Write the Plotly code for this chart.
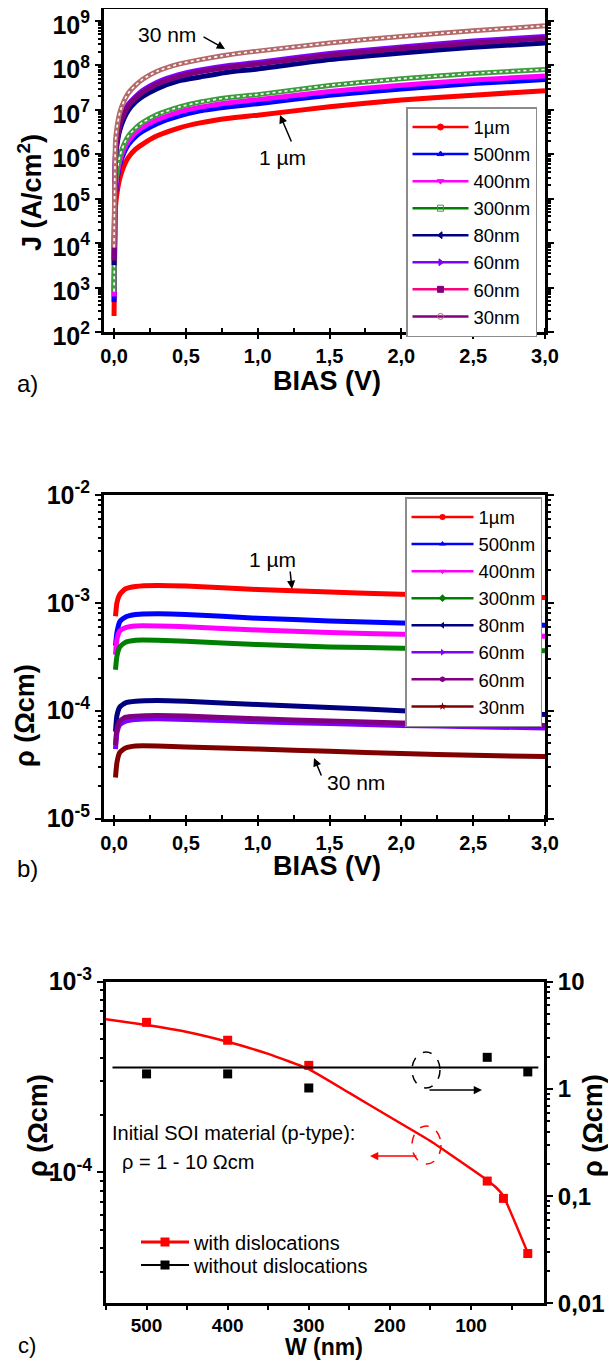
import plotly.graph_objects as go

# ---------------- Panel a : J versus BIAS ----------------
bias_a = [0.0, 0.01, 0.02, 0.04, 0.07, 0.1, 0.15, 0.2, 0.3, 0.45, 0.6, 0.8, 1.0, 1.5, 2.0, 2.5, 3.0]
j_1um   = [2.3e2, 6.6e4, 1.3e5, 2.9e5, 5.6e5, 8.5e5, 1.3e6, 1.7e6, 2.6e6, 3.9e6, 5.1e6, 6.5e6, 7.6e6, 1.17e7, 1.66e7, 2.14e7, 2.7e7]
j_500nm = [4.7e2, 1.26e5, 2.6e5, 5.8e5, 1.1e6, 1.66e6, 2.5e6, 3.3e6, 4.9e6, 7.2e6, 9.5e6, 1.17e7, 1.38e7, 2.14e7, 2.95e7, 3.9e7, 4.8e7]
j_400nm = [6.3e2, 1.5e5, 3.2e5, 6.9e5, 1.35e6, 2.0e6, 3.1e6, 4.1e6, 6.0e6, 8.9e6, 1.15e7, 1.45e7, 1.7e7, 2.6e7, 3.6e7, 4.7e7, 5.75e7]
j_300nm = [8.1e2, 2.0e5, 4.2e5, 9.1e5, 1.7e6, 2.6e6, 3.9e6, 5.2e6, 7.8e6, 1.15e7, 1.5e7, 1.9e7, 2.2e7, 3.55e7, 5.0e7, 6.6e7, 8.1e7]
j_80nm  = [3.2e3, 7.9e5, 1.6e6, 3.5e6, 6.5e6, 9.8e6, 1.5e7, 2.0e7, 3.0e7, 4.5e7, 5.5e7, 7.1e7, 8.3e7, 1.35e8, 1.9e8, 2.57e8, 3.2e8]
j_60nm_1 = [4.5e3, 1.1e6, 2.2e6, 4.9e6, 8.9e6, 1.35e7, 2.0e7, 2.75e7, 4.2e7, 6.2e7, 7.9e7, 1.0e8, 1.17e8, 1.86e8, 2.6e8, 3.55e8, 4.5e8]
j_60nm_2 = [4.0e3, 1.0e6, 2.0e6, 4.5e6, 8.1e6, 1.23e7, 1.86e7, 2.5e7, 3.8e7, 5.6e7, 7.2e7, 9.1e7, 1.07e8, 1.7e8, 2.4e8, 3.2e8, 4.1e8]
j_30nm  = [8.0e3, 1.95e6, 4.0e6, 8.7e6, 1.6e7, 2.4e7, 3.6e7, 4.9e7, 7.4e7, 1.07e8, 1.35e8, 1.74e8, 2.1e8, 3.2e8, 4.5e8, 6.0e8, 7.8e8]
legend_labels = ["1µm", "500nm", "400nm", "300nm", "80nm", "60nm", "60nm", "30nm"]

# ---------------- Panel b : rho versus BIAS ----------------
bias_b = [0.01, 0.02, 0.04, 0.08, 0.15, 0.3, 0.5, 1.0, 1.5, 2.0, 2.5, 3.0]
rho_1um   = [7.5e-4, 1.0e-3, 1.2e-3, 1.35e-3, 1.42e-3, 1.45e-3, 1.43e-3, 1.33e-3, 1.26e-3, 1.2e-3, 1.15e-3, 1.12e-3]
rho_500nm = [4.0e-4, 5.3e-4, 6.7e-4, 7.4e-4, 7.8e-4, 7.9e-4, 7.8e-4, 7.2e-4, 6.8e-4, 6.5e-4, 6.3e-4, 6.2e-4]
rho_400nm = [3.3e-4, 4.6e-4, 5.5e-4, 5.9e-4, 6.1e-4, 6.1e-4, 6.0e-4, 5.6e-4, 5.3e-4, 5.1e-4, 5.0e-4, 4.9e-4]
rho_300nm = [2.4e-4, 3.2e-4, 3.9e-4, 4.3e-4, 4.5e-4, 4.5e-4, 4.4e-4, 4.1e-4, 3.9e-4, 3.8e-4, 3.7e-4, 3.6e-4]
rho_80nm  = [6.4e-5, 9.0e-5, 1.08e-4, 1.18e-4, 1.22e-4, 1.24e-4, 1.22e-4, 1.14e-4, 1.07e-4, 1.0e-4, 9.6e-5, 9.2e-5]
rho_60nm_1 = [4.4e-5, 6.2e-5, 7.4e-5, 8.0e-5, 8.3e-5, 8.4e-5, 8.3e-5, 7.9e-5, 7.6e-5, 7.3e-5, 7.1e-5, 6.9e-5]
rho_60nm_2 = [4.8e-5, 6.8e-5, 8.0e-5, 8.7e-5, 8.9e-5, 9.0e-5, 8.9e-5, 8.4e-5, 8.0e-5, 7.7e-5, 7.5e-5, 7.3e-5]
rho_30nm  = [2.4e-5, 3.3e-5, 4.1e-5, 4.5e-5, 4.7e-5, 4.7e-5, 4.6e-5, 4.4e-5, 4.2e-5, 4.0e-5, 3.85e-5, 3.75e-5]

# ---------------- Panel c : rho versus W ----------------
w_with = [500, 400, 300, 80, 60, 30]
rho_with = [6.12e-4, 4.93e-4, 3.64e-4, 9.0e-5, 7.3e-5, 3.75e-5]
w_fit = [550, 500, 450, 400, 350, 300, 250, 200, 150, 80, 70, 60, 30]
rho_fit = [6.35e-4, 5.93e-4, 5.45e-4, 4.84e-4, 4.18e-4, 3.48e-4, 2.61e-4, 1.95e-4, 1.46e-4,
           9.1e-5, 8.4e-5, 7.5e-5, 3.78e-5]
w_without = [500, 400, 300, 80, 30]
rho_without = [1.38, 1.38, 1.02, 1.97, 1.44]
w_ref = [542, 17]
rho_ref = [1.58, 1.58]

# ---------------- tick labels ----------------
bias_ticks = [0.0, 0.5, 1.0, 1.5, 2.0, 2.5, 3.0]
bias_ticktext = ["0,0", "0,5", "1,0", "1,5", "2,0", "2,5", "3,0"]
j_ticks = [1e2, 1e3, 1e4, 1e5, 1e6, 1e7, 1e8, 1e9]
j_ticktext = ["10<sup>2</sup>", "10<sup>3</sup>", "10<sup>4</sup>", "10<sup>5</sup>",
              "10<sup>6</sup>", "10<sup>7</sup>", "10<sup>8</sup>", "10<sup>9</sup>"]
rho_b_ticks = [1e-5, 1e-4, 1e-3, 1e-2]
rho_b_ticktext = ["10<sup>-5</sup>", "10<sup>-4</sup>", "10<sup>-3</sup>", "10<sup>-2</sup>"]
w_ticks = [500, 400, 300, 200, 100]
w_ticktext = ["500", "400", "300", "200", "100"]
rho_c_ticks = [1e-4, 1e-3]
rho_c_ticktext = ["10<sup>-4</sup>", "10<sup>-3</sup>"]
rho_r_ticks = [0.01, 0.1, 1, 10]
rho_r_ticktext = ["0,01", "0,1", "1", "10"]

# page has an 8 px body margin: the figure is 600 x 1352 drawn from (8, 8)
OFF = 8
FW, FH = 600, 1352
FONT = "Liberation Sans, Arial, sans-serif"


def px(x):
    return (x - OFF) / FW


def py(y):
    return 1 - (y - OFF) / FH


fig = go.Figure()

# ---- panel a curves ----
a_series = [j_1um, j_500nm, j_400nm, j_300nm, j_80nm, j_60nm_1, j_60nm_2, j_30nm]
a_colors = ["#ff0000", "#0000ff", "#ff00ff", "#3c9c3c", "#000080", "#8000ff", "#800080", "#b46a6a"]
a_open = [False, False, False, True, False, False, False, True]
for ys, col, op in zip(a_series, a_colors, a_open):
    fig.add_trace(go.Scatter(x=bias_a, y=ys, mode="lines", xaxis="x", yaxis="y", showlegend=False,
                             line=dict(color=col, width=5, shape="spline", smoothing=0.5), hoverinfo="skip"))
    if op:
        fig.add_trace(go.Scatter(x=bias_a, y=ys, mode="lines", xaxis="x", yaxis="y", showlegend=False,
                                 line=dict(color="white", width=1.6, dash="dot", shape="spline", smoothing=0.5),
                                 hoverinfo="skip"))

# legend entries panel a
a_leg_line = ["#ff0000", "#0000ff", "#ff00ff", "#008000", "#000080", "#8000ff", "#ff0080", "#800080"]
a_leg_mcol = ["#ff0000", "#0000ff", "#ff00ff", "#3c9c3c", "#000080", "#8000ff", "#800080", "#b46a6a"]
a_leg_sym = ["circle", "triangle-up", "triangle-down", "square-open", "triangle-left", "triangle-right",
             "square", "circle-open"]
for lab, lc, mc, sym in zip(legend_labels, a_leg_line, a_leg_mcol, a_leg_sym):
    fig.add_trace(go.Scatter(x=[None], y=[None], mode="lines+markers", name=lab, legend="legend",
                             xaxis="x", yaxis="y", line=dict(color=lc, width=2.5),
                             marker=dict(color=mc, size=6, symbol=sym, line=dict(color=mc, width=1))))

# ---- panel b curves ----
b_series = [rho_1um, rho_500nm, rho_400nm, rho_300nm, rho_80nm, rho_60nm_1, rho_60nm_2, rho_30nm]
b_colors = ["#ff0000", "#0000ff", "#ff00ff", "#008000", "#000080", "#8000ff", "#800080", "#800000"]
b_sym = ["circle", "triangle-up", "triangle-down", "diamond", "triangle-left", "triangle-right",
         "hexagon", "star"]
for ys, col in zip(b_series, b_colors):
    fig.add_trace(go.Scatter(x=bias_b, y=ys, mode="lines", xaxis="x2", yaxis="y2", showlegend=False,
                             line=dict(color=col, width=5, shape="spline", smoothing=0.5), hoverinfo="skip"))
for lab, col, sym in zip(legend_labels, b_colors, b_sym):
    fig.add_trace(go.Scatter(x=[None], y=[None], mode="lines+markers", name=lab, legend="legend2",
                             xaxis="x2", yaxis="y2", line=dict(color=col, width=2.5),
                             marker=dict(color=col, size=6, symbol=sym)))

# ---- panel c ----
fig.add_trace(go.Scatter(x=w_fit, y=rho_fit, mode="lines", xaxis="x3", yaxis="y3", showlegend=False,
                         line=dict(color="#ff0000", width=2.5, shape="spline", smoothing=0.35), hoverinfo="skip"))
fig.add_trace(go.Scatter(x=w_with, y=rho_with, mode="markers", xaxis="x3", yaxis="y3", showlegend=False,
                         marker=dict(color="#ff0000", size=9, symbol="square")))
fig.add_trace(go.Scatter(x=w_ref, y=rho_ref, mode="lines", xaxis="x3", yaxis="y4", showlegend=False,
                         line=dict(color="black", width=2)))
fig.add_trace(go.Scatter(x=w_without, y=rho_without, mode="markers", xaxis="x3", yaxis="y4", showlegend=False,
                         marker=dict(color="black", size=9, symbol="square")))
fig.add_trace(go.Scatter(x=[None], y=[None], mode="lines+markers", name="with dislocations", legend="legend3",
                         xaxis="x3", yaxis="y3", line=dict(color="#ff0000", width=3),
                         marker=dict(color="#ff0000", size=9, symbol="square")))
fig.add_trace(go.Scatter(x=[None], y=[None], mode="lines+markers", name="without dislocations", legend="legend4",
                         xaxis="x3", yaxis="y4", line=dict(color="black", width=2),
                         marker=dict(color="black", size=9, symbol="square")))

# ---------------- axes ----------------
frame = dict(showline=True, linecolor="black", linewidth=3, showgrid=False, zeroline=False,
             tickcolor="black", tickwidth=2, ticklabeloverflow="allow")
x_dom_ab = [px(104), px(545)]
x_range_ab = [-0.07, 3.0]


def bias_axis(anchor):
    return dict(domain=x_dom_ab, anchor=anchor, range=x_range_ab, mirror=True,
                tickmode="array", tickvals=bias_ticks, ticktext=bias_ticktext,
                ticks="outside", ticklen=4,
                tickfont=dict(family=FONT, size=20, color="black", weight="bold"),
                minor=dict(ticks="inside", ticklen=4, tickwidth=2, tickcolor="black", dtick=0.25, tick0=0),
                **frame)


def top_axis(over, anchor, rng, tv, mdt, m0):
    return dict(overlaying=over, anchor=anchor, side="top", range=rng, tickmode="array", tickvals=tv,
                showticklabels=False, ticks="inside", ticklen=7, tickwidth=2, tickcolor="black",
                minor=dict(ticks="inside", ticklen=5, tickwidth=2, tickcolor="black", dtick=mdt, tick0=m0),
                showline=False, showgrid=False, zeroline=False)


fig.update_layout(
    xaxis=bias_axis("y"),
    yaxis=dict(domain=[py(332), py(9)], anchor="x", type="log", range=[2, 9.27], mirror="allticks",
               tickmode="array", tickvals=j_ticks, ticktext=j_ticktext, ticks="outside", ticklen=6,
               ticklabelshift=4,
               tickfont=dict(family=FONT, size=25, color="black", weight="bold"),
               minor=dict(ticks="outside", ticklen=3, tickwidth=1.5, tickcolor="black", dtick="D1"),
               **frame),
    xaxis2=bias_axis("y2"),
    yaxis2=dict(domain=[py(818.5), py(495)], anchor="x2", type="log", range=[-5, -2], mirror="allticks",
                tickmode="array", tickvals=rho_b_ticks, ticktext=rho_b_ticktext, ticks="outside", ticklen=6,
                tickfont=dict(family=FONT, size=25, color="black", weight="bold"),
                minor=dict(ticks="outside", ticklen=3, tickwidth=1.5, tickcolor="black", dtick="D1"),
                **frame),
    xaxis3=dict(domain=[px(106), px(544)], anchor="y3", range=[550, 10], mirror=True,
                tickmode="array", tickvals=w_ticks, ticktext=w_ticktext, ticks="outside", ticklen=3,
                tickfont=dict(family=FONT, size=19, color="black", weight="bold"),
                minor=dict(ticks="outside", ticklen=4, tickwidth=2, tickcolor="black", dtick=50, tick0=0),
                **frame),
    yaxis3=dict(domain=[py(1303.3), py(981.7)], anchor="x3", type="log", range=[-4.687, -3], mirror=True,
                tickmode="array", tickvals=rho_c_ticks, ticktext=rho_c_ticktext, ticks="outside", ticklen=6,
                tickfont=dict(family=FONT, size=25, color="black", weight="bold"),
                minor=dict(ticks="outside", ticklen=3, tickwidth=1.5, tickcolor="black", dtick="D1"),
                **frame),
    yaxis4=dict(overlaying="y3", anchor="x3", side="right", type="log", range=[-2, 1],
                tickmode="array", tickvals=rho_r_ticks, ticktext=rho_r_ticktext, ticks="outside", ticklen=6,
                tickfont=dict(family=FONT, size=24, color="black", weight="bold"),
                minor=dict(ticks="outside", ticklen=3, tickwidth=1.5, tickcolor="black", dtick="D1"),
                **frame),
    xaxis4=top_axis("x", "y", x_range_ab, bias_ticks, 0.25, 0),
    xaxis5=top_axis("x2", "y2", x_range_ab, bias_ticks, 0.25, 0),
    xaxis6=top_axis("x3", "y3", [550, 10], w_ticks, 50, 0),
)

legend_box = dict(xanchor="left", yanchor="top", bgcolor="white", bordercolor="#8c8c8c", borderwidth=1.5,
                  font=dict(family=FONT, size=18.5, color="black"), tracegroupgap=0, itemclick=False)
legend_plain = dict(xanchor="left", yanchor="middle", bgcolor="rgba(0,0,0,0)", borderwidth=0,
                    font=dict(family=FONT, size=20, color="black"), itemwidth=48)
fig.update_layout(
    legend=dict(x=px(406), y=py(107), itemwidth=56, **legend_box),
    legend2=dict(x=px(405), y=py(497), itemwidth=62, **legend_box),
    legend3=dict(x=px(136), y=py(1242), **legend_plain),
    legend4=dict(x=px(136), y=py(1265), **legend_plain),
)


def txt(x, y, s, size=21, bold=False, angle=0, xanchor="center", color="black"):
    return dict(x=px(x), y=py(y), xref="paper", yref="paper", text=s, showarrow=False, textangle=angle,
                xanchor=xanchor, yanchor="middle",
                font=dict(family=FONT, size=size, color=color, weight="bold" if bold else "normal"))


def arrow(hx, hy, tx, ty, color="black"):
    return dict(x=px(hx), y=py(hy), xref="paper", yref="paper", text="", showarrow=True,
                ax=tx - hx, ay=ty - hy, axref="pixel", ayref="pixel",
                arrowhead=2, arrowsize=1.1, arrowwidth=1.5, arrowcolor=color)


annotations = [
    # panel a
    txt(30, 193, "J (A/cm<sup>2</sup>)", 27, True, -90),
    txt(327, 381, "BIAS (V)", 27, True),
    txt(27, 384, "a)", 24),
    txt(167, 35, "30 nm", 21),
    arrow(225, 49, 202, 36),
    txt(282, 157, "1 µm", 21),
    arrow(280, 115, 292, 143),
    # panel b
    txt(25, 716, "ρ (Ωcm)", 27, True, -90),
    txt(327, 866, "BIAS (V)", 27, True),
    txt(27, 868, "b)", 24),
    txt(272, 559, "1 µm", 21),
    arrow(292, 589, 290, 570),
    txt(356, 782, "30 nm", 21),
    arrow(314, 758, 322, 777),
    # panel c
    txt(38, 1126, "ρ (Ωcm)", 27, True, -90),
    txt(593, 1126, "ρ (Ωcm)", 27, True, -90),
    txt(324, 1347, "W (nm)", 23, True),
    txt(27, 1345, "c)", 22),
    txt(110, 1133, "Initial SOI material (p-type):", 20, xanchor="left"),
    txt(120, 1162, "ρ = 1 - 10 Ωcm", 20, xanchor="left"),
    arrow(482, 1090, 428, 1090),
    arrow(370, 1156, 418, 1156, "#ff0000"),
]

shapes = [
    dict(type="circle", xref="paper", yref="paper", x0=px(412), x1=px(440), y0=py(1088), y1=py(1052),
         line=dict(color="black", width=1.5, dash="dash")),
    dict(type="circle", xref="paper", yref="paper", x0=px(412), x1=px(441), y0=py(1164), y1=py(1126),
         line=dict(color="#ff0000", width=1.5, dash="dash")),
]

fig.update_layout(
    width=FW, height=FH, margin=dict(l=0, r=0, t=0, b=0, pad=0, autoexpand=False),
    paper_bgcolor="white", plot_bgcolor="white",
    separators=", ",
    annotations=annotations, shapes=shapes,
    font=dict(family=FONT, color="black"),
)

fig.write_html("out.html")
